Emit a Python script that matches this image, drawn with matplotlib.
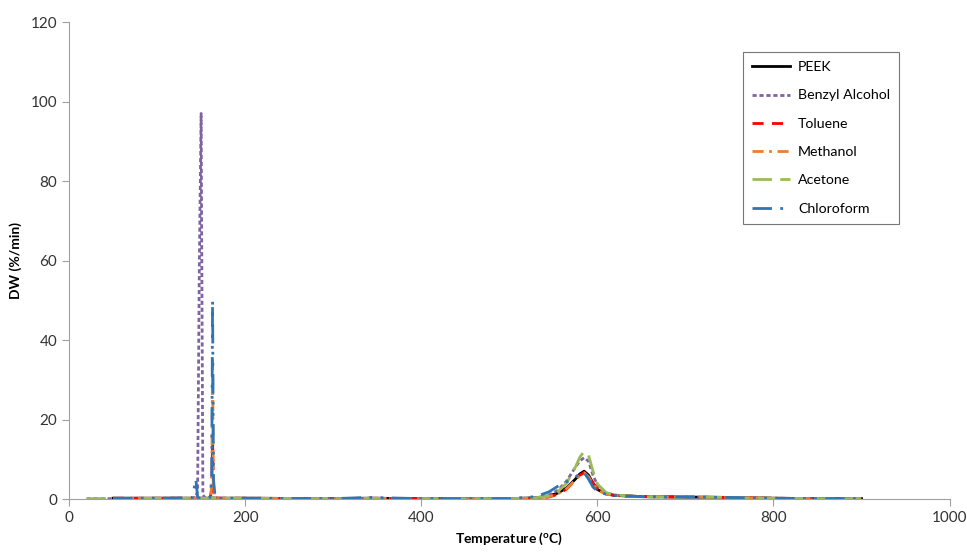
import numpy as np
import matplotlib.pyplot as plt

plt.rcParams['font.family'] = ['Lato', 'DejaVu Sans']

# Temperatures (oC) shared by all series
temps = [20, 50, 100, 140, 144, 146, 148, 150, 152, 155, 160, 162, 163, 164, 166, 170,
         200, 300, 340, 400, 500, 530, 545, 555, 565, 575, 580, 585, 590, 595, 600,
         610, 620, 650, 700, 750, 800, 850, 900]

nan = np.nan
peek = [nan, 0.2, 0.2, 0.2, 0.2, 0.2, 0.2, 0.2, 0.2, 0.2, 0.2, 0.3, 0.4, 0.3, 0.2, 0.2,
        0.2, 0.1, 0.2, 0.1, 0.1, 0.3, 0.8, 1.5, 2.8, 5.0, 6.3, 7.0, 6.0, 4.0, 2.4,
        1.3, 0.9, 0.6, 0.5, 0.4, 0.2, 0.1, 0.1]
benzyl = [0.1, 0.1, 0.2, 0.2, 0.5, 2.0, 60.0, 97.0, 1.0, 0.2, 0.2, 0.2, 0.3, 0.2, 0.2, 0.2,
          0.2, 0.1, 0.2, 0.1, 0.1, 0.3, 1.0, 2.2, 4.5, 8.0, 9.6, 10.4, 9.5, 6.0, 3.5,
          1.5, 1.0, 0.6, 0.5, 0.4, 0.2, 0.1, 0.1]
toluene = [nan, 0.2, 0.2, 0.2, 0.2, 0.2, 0.2, 0.2, 0.2, 0.2, 0.3, 2.0, 15.0, 2.0, 0.3, 0.2,
           0.2, 0.1, 0.2, 0.1, 0.1, 0.2, 0.5, 1.2, 2.5, 4.8, 6.0, 6.6, 5.8, 4.0, 2.5,
           1.3, 0.9, 0.6, 0.5, 0.4, 0.2, 0.1, 0.1]
methanol = [nan, 0.2, 0.2, 0.2, 0.2, 0.2, 0.2, 0.2, 0.2, 0.2, 0.3, 3.0, 35.0, 3.0, 0.3, 0.2,
            0.2, 0.1, 0.2, 0.1, 0.1, 0.2, 0.6, 1.3, 2.6, 4.8, 6.0, 6.6, 5.6, 3.8, 2.3,
            1.2, 0.9, 0.6, 0.5, 0.4, 0.2, 0.1, 0.1]
acetone = [0.1, 0.1, 0.2, 0.2, 0.2, 0.2, 0.2, 0.2, 0.2, 0.2, 0.2, 0.3, 0.5, 0.3, 0.2, 0.2,
           0.2, 0.1, 0.2, 0.1, 0.1, 0.3, 0.8, 1.8, 4.0, 8.0, 10.5, 12.0, 11.0, 7.0, 3.8,
           1.6, 1.0, 0.6, 0.5, 0.4, 0.2, 0.1, 0.1]
chloroform = [nan, 0.2, 0.2, 0.3, 5.0, 0.5, 0.2, 0.2, 0.2, 0.2, 0.4, 5.0, 50.0, 5.0, 0.4, 0.2,
              0.2, 0.1, 0.4, 0.1, 0.1, 0.6, 1.8, 3.2, 4.3, 5.5, 6.4, 6.6, 5.0, 3.0, 2.0,
              1.2, 0.9, 0.6, 0.5, 0.4, 0.2, 0.1, 0.1]

fig = plt.figure(figsize=(9.67, 5.53), dpi=100)
ax = fig.add_axes([0.0714, 0.0976, 0.9106, 0.8626])

ax.plot(temps, peek, color='black', lw=2, label='PEEK')
ax.plot(temps, benzyl, color='#8064A2', lw=2, dashes=(1.5, 1), label='Benzyl Alcohol')
ax.plot(temps, toluene, color='#FF0000', lw=2, dashes=(4, 3), label='Toluene')
ax.plot(temps, methanol, color='#ED7D31', lw=2, dashes=(4, 2, 1, 2), label='Methanol')
ax.plot(temps, acetone, color='#9BBB59', lw=2, dashes=(7, 3), label='Acetone')
ax.plot(temps, chloroform, color='#2E75B6', lw=2, dashes=(7, 3, 1, 3, 1, 3), label='Chloroform')

ax.set_xlim(0, 1000)
ax.set_ylim(0, 120)
ax.set_xticks(range(0, 1001, 200))
ax.set_yticks(range(0, 121, 20))
for s in ['top', 'right']:
    ax.spines[s].set_visible(False)
for s in ['left', 'bottom']:
    ax.spines[s].set_color('#A0A0A0')
ax.tick_params(colors='#A0A0A0', labelcolor='#333333', labelsize=11, length=5)
ax.set_xlabel('Temperature ($\\mathregular{^oC}$)', fontsize=10, fontweight='bold', labelpad=4)
ax.set_ylabel('DW (%/min)', fontsize=10, fontweight='bold', labelpad=6)

leg = ax.legend(loc='upper left', bbox_to_anchor=(0.768, 0.906),
                bbox_transform=fig.transFigure, borderaxespad=0, fontsize=10.2,
                frameon=True, fancybox=False, handlelength=2.7, handletextpad=0.55,
                labelspacing=1.15, borderpad=0.65)
leg.get_frame().set_edgecolor('#555555')
leg.get_frame().set_linewidth(0.8)

plt.savefig('out.png', dpi=100)
